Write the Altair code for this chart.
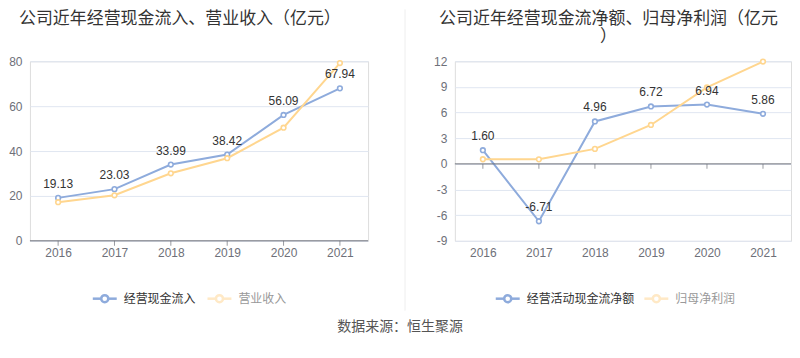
import altair as alt
import pandas as pd

years = ["2016", "2017", "2018", "2019", "2020", "2021"]
cash_in = [19.13, 23.03, 33.99, 38.42, 56.09, 67.94]
revenue = [17.2, 20.3, 30.1, 36.8, 50.4, 79.2]
net_cash = [1.60, -6.71, 4.96, 6.72, 6.94, 5.86]
net_profit = [0.54, 0.53, 1.75, 4.55, 8.94, 11.97]

left_names = ["经营现金流入", "营业收入"]
right_names = ["经营活动现金流净额", "归母净利润"]
left_title = ["公司近年经营现金流入、营业收入（亿元）"]
right_title = ["公司近年经营现金流净额、归母净利润（亿元", "）"]
source_text = "数据来源：恒生聚源"

left_ticks = [0, 20, 40, 60, 80]
right_ticks = [-9, -6, -3, 0, 3, 6, 9, 12]

BLUE = "#8eabdc"
ORANGE = "#ffd68f"
ORANGE_FADED = "#ffe9c6"
AXIS = "#6e7079"
GRID = "#e0e6f1"
FONT = "Liberation Sans, Noto Sans CJK SC"

H = 180
HYPHEN_EXPR = "replace(datum.label, '\u2212', '-')"


def panel(a_vals, b_vals, names, ticks, width, title_lines, title_x, title_align,
          legend_x, extra=None):
    df = pd.DataFrame({
        "year": years * 2,
        "value": a_vals + b_vals,
        "series": [names[0]] * len(years) + [names[1]] * len(years),
    })
    df_a = df[df["series"] == names[0]]
    x = alt.X("year:O", scale=alt.Scale(type="point", padding=0.5),
              axis=alt.Axis(title=None, labelAngle=0, domain=False, ticks=False,
                            grid=False, labelPadding=7, labelColor=AXIS,
                            labelFontSize=12, labelFont=FONT))
    y = alt.Y("value:Q",
              scale=alt.Scale(domain=[ticks[0], ticks[-1]], nice=False, zero=False),
              axis=alt.Axis(title=None, values=ticks, domain=False, ticks=False,
                            grid=True, gridColor=GRID, labelPadding=8,
                            labelOverlap=False, labelColor=AXIS,
                            labelExpr=HYPHEN_EXPR,
                            labelFontSize=12, labelFont=FONT))
    color = alt.Color("series:N", scale=alt.Scale(domain=names, range=[BLUE, ORANGE]),
                      legend=None)

    base = alt.Chart(df)
    lines = base.mark_line(strokeWidth=2).encode(x=x, y=y, color=color)
    zero = alt.Chart(pd.DataFrame({"value": [0]})).mark_rule(
        color=AXIS, strokeWidth=1).encode(y=y, x=alt.value(0), x2=alt.value(width))
    tks = alt.Chart(pd.DataFrame({"year": years, "value": [0] * len(years)})).mark_tick(
        orient="vertical", size=5, thickness=1, yOffset=2.5, color=AXIS).encode(
        x=x, y=y)
    pts = base.mark_point(shape="circle", filled=False, fill="white", fillOpacity=1,
                          opacity=1, size=22, strokeWidth=1.6).encode(
        x=x, y=y, color=color)
    labels = alt.Chart(df_a).transform_calculate(
        lbl="replace(format(datum.value, '.2f'), '\u2212', '-')"
    ).mark_text(dy=-14, fontSize=12, color="#333333", font=FONT).encode(
        x=x, y=y, text="lbl:N")

    layers = [lines, zero, tks, pts, labels]

    for i, t in enumerate(title_lines):
        layers.append(alt.Chart(pd.DataFrame({"t": [t]})).mark_text(
            align=title_align, baseline="top", fontSize=17, color="#333333",
            font=FONT).encode(x=alt.value(title_x), y=alt.value(-50 + 18 * i), text="t:N"))

    sym_colors = [BLUE, ORANGE_FADED]
    txt_colors = ["#333333", "#999999"]
    for nm, x0, sc, tc in zip(names, legend_x, sym_colors, txt_colors):
        d = alt.Chart(pd.DataFrame({"name": [nm]}))
        layers.append(d.mark_rule(color=sc, strokeWidth=2.5).encode(
            x=alt.value(x0), x2=alt.value(x0 + 24), y=alt.value(238)))
        layers.append(d.mark_point(shape="circle", filled=False, fill="white",
                                   fillOpacity=1, opacity=1, color=sc, size=50,
                                   strokeWidth=2.5).encode(
            x=alt.value(x0 + 12), y=alt.value(238)))
        layers.append(d.mark_text(align="left", baseline="middle", fontSize=12,
                                  color=tc, font=FONT).encode(
            x=alt.value(x0 + 31), y=alt.value(238), text="name:N"))
    if extra:
        layers.extend(extra)
    return alt.layer(*layers).properties(width=width, height=H)


dummy = alt.Chart(pd.DataFrame({"k": [0]}))
separator = dummy.mark_rule(color="#eeeeee", strokeWidth=1).encode(
    x=alt.value(-50), y=alt.value(-52), y2=alt.value(250))

left = panel(cash_in, revenue, left_names, left_ticks, 339, left_title, -11, "left",
             [63, 178])
right = panel(net_cash, net_profit, right_names, right_ticks, 337, right_title, 154,
              "center", [41, 190], extra=[separator])

chart = alt.hconcat(left, right, spacing=35).properties(
    padding=0, background="white",
    title=alt.TitleParams(source_text, orient="bottom", anchor="middle", offset=8,
                          fontSize=14, fontWeight="normal", color="#555555",
                          font=FONT, baseline="top"),
).configure_view(stroke=None).configure_axisY(labelOverlap=False).configure(font=FONT)

chart.save("out.html", embed_options={"renderer": "svg", "actions": False})
